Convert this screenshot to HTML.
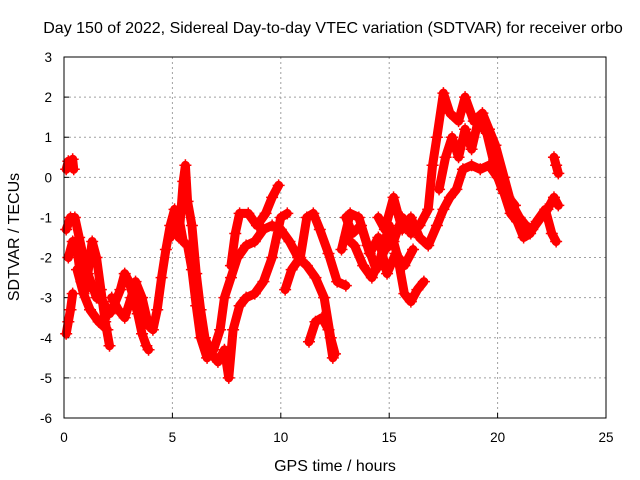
<!DOCTYPE html>
<html><head><meta charset="utf-8"><style>
body{margin:0;background:#fff}
svg{display:block;font-family:"Liberation Sans",sans-serif}
</style></head><body>
<svg id="chart" width="640" height="480" viewBox="0 0 640 480">
<text x="333" y="33" font-size="16" text-anchor="middle">Day 150 of 2022, Sidereal Day-to-day VTEC variation (SDTVAR) for receiver orbo</text>
<text transform="translate(19,237) rotate(-90)" font-size="16" text-anchor="middle">SDTVAR / TECUs</text>
<text x="335" y="471" font-size="16" text-anchor="middle">GPS time / hours</text>
<g id="grid"></g>
<g id="ticks"></g>
<g id="series"></g>
<rect x="64" y="57" width="542" height="361" fill="none" stroke="#000" stroke-width="1"/>
</svg>
<script>
const xTicks=[0,5,10,15,20,25];
const yTicks=[3,2,1,0,-1,-2,-3,-4,-5,-6];
const sA=[[0.1,0.2],[0.2,0.4],[0.3,0.3],[0.4,0.45],[0.45,0.2]];
const sB=[[0.1,-3.9],[0.2,-3.6],[0.3,-3.3],[0.4,-2.9]];
const s1=[[0.1,-1.3],[0.3,-1.0],[0.5,-1.0],[0.7,-1.5],[0.9,-2.0],[1.1,-2.4],[1.3,-2.7],[1.5,-3.0],[1.8,-3.1],[2.1,-3.4],[2.3,-3.2],[2.6,-2.8],[2.8,-2.4],[3.0,-2.6],[3.2,-3.0],[3.4,-3.4],[3.6,-3.9],[3.8,-4.2],[3.9,-4.3]];
const s2=[[0.2,-2.0],[0.4,-1.6],[0.6,-1.8],[0.8,-2.6],[1.0,-2.8],[1.2,-2.0],[1.3,-1.6],[1.5,-2.0],[1.7,-2.8],[1.9,-3.6],[2.1,-4.2]];
const s3=[[2.2,-3.0],[2.5,-3.3],[2.8,-3.5],[3.1,-3.0],[3.3,-2.6],[3.6,-3.0],[3.9,-3.7],[4.1,-3.8],[4.3,-3.3],[4.5,-2.5],[4.7,-1.8],[4.9,-1.2],[5.1,-0.8],[5.3,-1.0],[5.5,-1.6],[5.7,-1.7],[5.9,-2.3],[6.1,-3.2],[6.3,-4.0],[6.6,-4.5],[6.9,-4.3],[7.2,-3.8],[7.4,-3.0],[7.7,-2.5],[8.0,-2.0],[8.4,-1.7],[8.8,-1.6],[9.2,-1.3],[9.6,-1.2],[10.0,-1.3],[10.4,-1.6],[10.8,-2.0],[11.2,-2.2],[11.6,-2.5],[12.0,-3.0],[12.3,-4.0],[12.5,-4.4]];
const s4=[[4.9,-1.5],[5.1,-1.2],[5.3,-1.5],[5.5,-0.1],[5.6,0.3],[5.7,-0.6],[5.9,-1.2],[6.1,-2.4],[6.3,-3.3],[6.5,-4.0],[6.8,-4.4],[7.1,-4.6],[7.4,-4.3],[7.6,-5.0],[7.8,-3.8],[8.1,-3.2],[8.4,-3.0],[8.8,-2.9],[9.2,-2.6],[9.6,-2.0],[10.0,-1.0],[10.3,-0.9]];
const s5=[[7.7,-2.2],[7.9,-1.4],[8.1,-0.9],[8.5,-0.9],[8.9,-1.2],[9.3,-0.9],[9.6,-0.5],[9.9,-0.2]];
const s6=[[10.2,-2.8],[10.5,-2.3],[10.9,-2.0],[11.2,-1.0],[11.5,-0.9],[11.8,-1.3],[12.2,-1.9],[12.6,-2.6],[13.0,-2.7]];
const s7=[[11.3,-4.1],[11.6,-3.6],[11.9,-3.5],[12.2,-3.8],[12.4,-4.5]];
const s8=[[12.8,-1.8],[13.2,-0.9],[13.6,-1.0],[14.0,-1.7],[14.4,-2.3],[14.8,-1.8],[15.2,-1.6],[15.6,-1.0],[16.0,-1.4],[16.4,-1.2],[16.8,-0.8],[17.0,0.3],[17.2,1.0],[17.5,2.1],[17.8,1.6],[18.2,1.4],[18.5,2.0],[18.9,1.4],[19.3,1.6],[19.6,1.2],[19.9,0.8],[20.3,0],[20.6,-0.6],[21.0,-1.0],[21.3,-1.2],[21.6,-1.3],[22.0,-1.0],[22.3,-0.8],[22.6,-0.5],[22.8,-0.7]];
const s9=[[13.0,-1.5],[13.4,-1.7],[13.8,-2.2],[14.2,-2.5],[14.6,-2.0],[15.0,-1.2],[15.4,-2.0],[15.7,-2.9],[16.0,-3.1],[16.3,-2.8],[16.6,-2.6]];
const s10=[[14.5,-1.0],[14.8,-1.3],[15.2,-0.5],[15.6,-1.3],[16.0,-1.0],[16.4,-1.5],[16.8,-1.7],[17.2,-1.2],[17.5,-0.8],[17.8,-0.5],[18.1,-0.3],[18.4,0.2],[18.8,0.3],[19.2,0.2],[19.6,0.3],[20.0,0],[20.3,-0.4],[20.6,-0.9],[20.9,-1.1],[21.2,-1.5],[21.5,-1.4],[21.8,-1.1],[22.2,-0.8],[22.5,-1.4],[22.7,-1.6]];
const s11=[[17.3,-0.3],[17.6,0.5],[17.9,1.0],[18.2,0.5],[18.5,1.2],[18.8,0.7],[19.1,1.4],[19.5,1.1],[19.9,0.2],[20.2,-0.3],[20.5,-0.5],[20.8,-0.7]];
const s12=[[22.6,0.5],[22.7,0.3],[22.8,0.1]];
const s13=[[13.0,-1.0],[13.3,-1.4],[13.7,-1.2],[14.1,-1.9],[14.5,-1.5],[14.9,-2.4],[15.3,-1.9],[15.7,-2.2],[16.1,-1.8]];
const s14=[[0.6,-2.3],[0.9,-2.9],[1.2,-3.3],[1.6,-3.6],[2.0,-3.8]];
const allSeries=[sA,sB,s1,s2,s3,s4,s5,s6,s7,s8,s9,s10,s11,s12,s13,s14];

const X0=64,X1=606,Y0=57,Y1=418;
const xs=t=>X0+(t-0)/(25-0)*(X1-X0);
const ys=v=>Y0+(3-v)/(3-(-6))*(Y1-Y0);
const NS='http://www.w3.org/2000/svg';
const grid=document.getElementById('grid'),ticks=document.getElementById('ticks'),ser=document.getElementById('series');
function mk(tag,attrs,parent){const e=document.createElementNS(NS,tag);for(const k in attrs)e.setAttribute(k,attrs[k]);parent.appendChild(e);return e;}
xTicks.forEach(t=>{
  const x=xs(t);
  if(t>0&&t<25){const g=mk('line',{x1:x,x2:x,y1:Y0,y2:Y1,stroke:'#a0a0a0','stroke-dasharray':'2,3'},grid);
  
  }
  const l=mk('text',{x:x,y:Y1+24,'font-size':'13.5','text-anchor':'middle'},ticks);l.textContent=t;
  
  
  mk('line',{x1:x,x2:x,y1:Y1,y2:Y1-5,stroke:'#000'},ticks);
});
yTicks.forEach(v=>{
  const y=ys(v);
  if(v<3&&v>-6){const g=mk('line',{x1:X0,x2:X1,y1:y,y2:y,stroke:'#a0a0a0','stroke-dasharray':'2,3'},grid);
  
  }
  const l=mk('text',{x:X0-12,y:y+5,'font-size':'13.5','text-anchor':'end'},ticks);l.textContent=v;
  
  
  mk('line',{x1:X0,x2:X0+5,y1:y,y2:y,stroke:'#000'},ticks);
});
allSeries.forEach((s,i)=>{
  const pl=mk('polyline',{points:s.map(p=>xs(p[0])+','+ys(p[1])).join(' '),fill:'none',stroke:'#f00','stroke-width':'9','stroke-linejoin':'round','stroke-linecap':'round'},ser);
  
  
  s.forEach(p=>{
    const x=xs(p[0]),y=ys(p[1]);
    const m=mk('path',{d:`M${x-6},${y}H${x+6}M${x},${y-6}V${y+6}`,stroke:'#f00','stroke-width':'1.5'},ser);
    
    
  });
});
</script>
</body></html>
